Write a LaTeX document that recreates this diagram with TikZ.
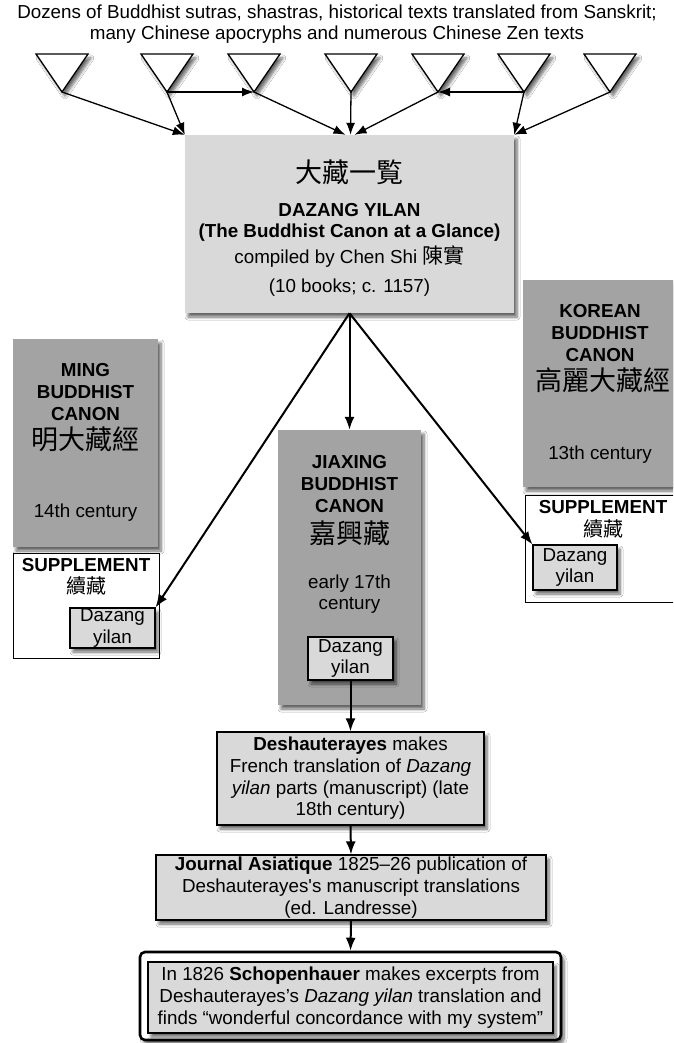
\documentclass[tikz,border=0pt]{standalone}
\usepackage{fontspec}
\setmainfont{Liberation Sans}
\newfontfamily\cjk{Noto Sans CJK TC}
\usetikzlibrary{arrows.meta,shadows.blur}
\definecolor{boxlight}{RGB}{217,217,217}
\definecolor{boxdark}{RGB}{163,163,163}
\tikzset{
  shadowy/.style={blur shadow={shadow xshift=3pt,shadow yshift=-4pt,shadow blur steps=6,shadow blur radius=3pt,shadow opacity=60}},
  txt/.style={font=\fontsize{18.8}{21.7}\selectfont, inner sep=0pt, align=center},
  cjkbig/.style={font=\cjk\fontsize{27}{30}\selectfont, inner sep=0pt},
  cjksmall/.style={font=\cjk\fontsize{20}{22}\selectfont, inner sep=0pt},
  graybox/.style={rectangle, fill=boxdark, draw=none, inner sep=0pt, shadowy},
  mainbox/.style={rectangle, fill=boxlight, draw=none, inner sep=0pt, shadowy},
  supbox/.style={rectangle, fill=white, draw=black, line width=0.9pt, inner sep=0pt},
  dybox/.style={rectangle, fill=boxlight, draw=black, line width=1.1pt, inner sep=0pt, shadowy, txt},
  textbox/.style={rectangle, fill=boxlight, draw=black, line width=1.2pt, inner sep=0pt, shadowy, txt},
  conn/.style={line width=1.3pt, -{Latex[length=12pt,width=9pt]}},
  thick conn/.style={line width=2pt, -{Latex[length=13pt,width=10pt]}},
  tri/.pic={\draw[fill=white, line width=1.3pt, line join=miter, shadowy] (-26,-38) -- (26,-38) -- (0,0) -- cycle;}
}
\begin{document}
\begin{tikzpicture}[x=1pt,y=-1pt]
\useasboundingbox (0,0) rectangle (673,1043);
\clip (0,0) rectangle (673,1043);
\fill[white] (0,0) rectangle (673,1043);

% heading
\node[txt] (head) at (337,24) {Dozens of Buddhist sutras, shastras, historical texts translated from Sanskrit;\\many Chinese apocryphs and numerous Chinese Zen texts};

% triangles (apex coordinates)
\coordinate (a1) at (62,92);
\coordinate (a2) at (167,92);
\coordinate (a3) at (254,92);
\coordinate (a4) at (351,92);
\coordinate (a5) at (438,92);
\coordinate (a6) at (524,92);
\coordinate (a7) at (610,92);
\foreach \t in {a1,a2,a3,a4,a5,a6,a7} {\pic at (\t) {tri};}

% main box
\node[mainbox, minimum width=329pt, minimum height=178pt] (main) at (349.5,224) {};
\node[cjkbig] (m1) at (349.5,172) {大藏一覧};
\node[txt] (m2) at (349.5,210) {\textbf{DAZANG YILAN}};
\node[txt] (m3) at (349.5,233) {\textbf{(The Buddhist Canon at a Glance)}};
\node[txt] (m4) at (349.5,257) {compiled by Chen Shi {\cjk\fontsize{21}{22}\selectfont 陳實}};
\node[txt] (m5) at (349.5,288) {(10 books; c. 1157)};

% top connectors
\draw[conn] (a2) -- (a3);
\draw[conn] (a6) -- (a5);
\draw[conn] (a1) -- (main.north west);
\draw[conn] (a2) -- (main.north west);
\draw[conn] (a3) -- ([xshift=-4pt]main.north);
\draw[conn] (a4) -- ([xshift=1pt]main.north);
\draw[conn] (a5) -- ([xshift=5pt]main.north);
\draw[conn] (a6) -- (main.north east);
\draw[conn] (a7) -- (main.north east);

% Ming
\node[graybox, minimum width=145pt, minimum height=208pt] (ming) at (85.5,443) {};
\node[txt] (mi1) at (85.5,392) {\textbf{MING}\\\textbf{BUDDHIST}\\\textbf{CANON}};
\node[cjkbig] (mi2) at (85.5,439) {明大藏經};
\node[txt] (mi3) at (85.5,513) {14th century};
\node[supbox, minimum width=146pt, minimum height=105pt] (mingsup) at (86,605.5) {};
\node[txt] (ms1) at (86,565) {\textbf{SUPPLEMENT}};
\node[cjksmall] (ms2) at (86,586) {續藏};
\node[dybox, minimum width=85pt, minimum height=40pt] (mingdy) at (112.5,628) {Dazang\\yilan};

% Jiaxing
\node[graybox, minimum width=143pt, minimum height=275pt] (jia) at (349.5,567.5) {};
\node[txt] (j1) at (349.5,484) {\textbf{JIAXING}\\\textbf{BUDDHIST}\\\textbf{CANON}};
\node[cjkbig] (j2) at (349.5,533) {嘉興藏};
\node[txt] (j3) at (349.5,594) {early 17th\\century};
\node[dybox, minimum width=85pt, minimum height=43pt] (jiady) at (350.5,658.5) {Dazang\\yilan};

% Korean
\node[graybox, minimum width=154pt, minimum height=207pt] (kor) at (600,383.5) {};
\node[txt] (k1) at (600,333) {\textbf{KOREAN}\\\textbf{BUDDHIST}\\\textbf{CANON}};
\node[cjkbig] (k2) at (603,380) {高麗大藏經};
\node[txt] (k3) at (600,455) {13th century};
\node[supbox, minimum width=156pt, minimum height=107pt] (korsup) at (603,548.5) {};
\node[txt] (ks1) at (603,507) {\textbf{SUPPLEMENT}};
\node[cjksmall] (ks2) at (603,529) {續藏};
\node[dybox, minimum width=84pt, minimum height=45pt] (kordy) at (575,567.5) {Dazang\\yilan};

% main connectors
\draw[thick conn] (main.south) -- (mingdy.north east);
\draw[thick conn] (main.south) -- (jia.north);
\draw[thick conn] (main.south) -- (kordy.north west);

% lower chain
\node[textbox, minimum width=267pt, minimum height=93pt] (desh) at (350.5,778.5) {\textbf{Deshauterayes} makes\\French translation of \textit{Dazang}\\\textit{yilan} parts (manuscript) (late\\18th century)};
\node[textbox, minimum width=390pt, minimum height=65pt] (jour) at (351,887.5) {\textbf{Journal Asiatique} 1825--26 publication of\\Deshauterayes\textquotesingle s manuscript translations\\(ed. Landresse)};
\node[rectangle, rounded corners=5pt, fill=white, draw=black, line width=2.6pt, minimum width=421pt, minimum height=88pt, shadowy] (schop) at (350.5,996) {};
\node[textbox, line width=1.6pt, minimum width=405pt, minimum height=71pt] (schopin) at (350.5,997.5) {In 1826 \textbf{Schopenhauer} makes excerpts from\\Deshauterayes’s \textit{Dazang yilan} translation and\\finds “wonderful concordance with my system”};

\draw[thick conn] (jiady.south) -- (desh.north);
\draw[thick conn] (desh.south) -- (jour.north);
\draw[thick conn] (jour.south) -- (schop.north);
\end{tikzpicture}
\end{document}
